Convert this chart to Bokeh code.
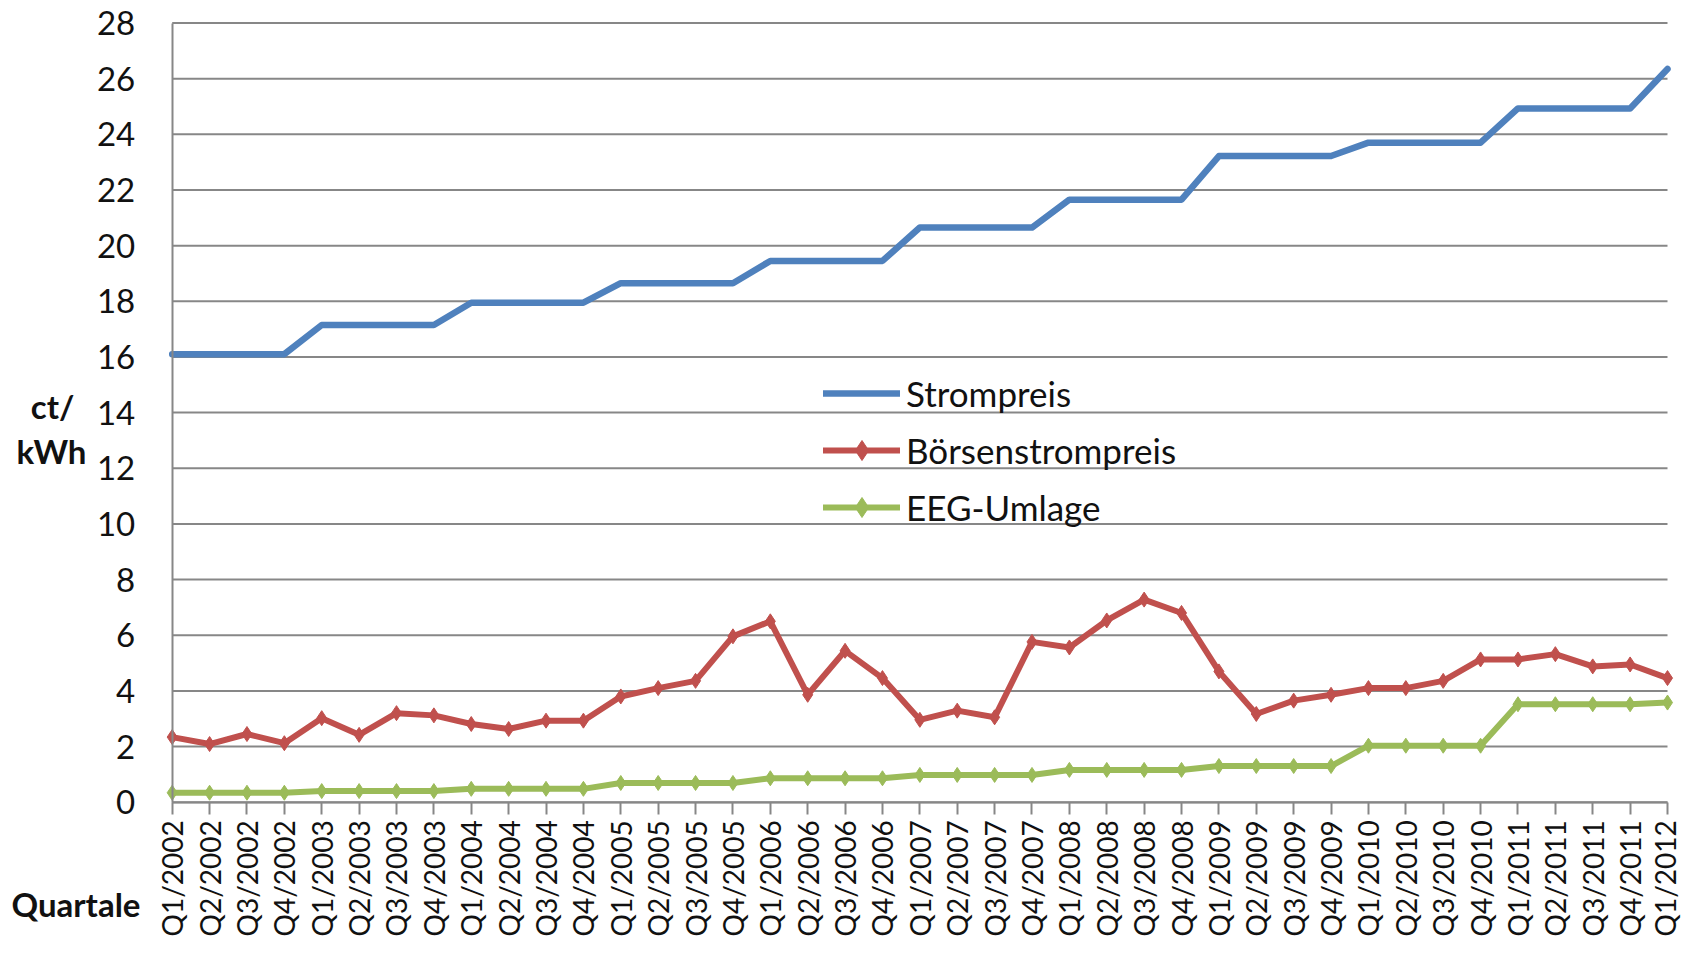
import math
from bokeh.plotting import figure
from bokeh.models import Legend, LegendItem, Label, FixedTicker, Range1d
from bokeh.embed import file_html
from bokeh.resources import INLINE

quarters = [
    "Q1/2002", "Q2/2002", "Q3/2002", "Q4/2002",
    "Q1/2003", "Q2/2003", "Q3/2003", "Q4/2003",
    "Q1/2004", "Q2/2004", "Q3/2004", "Q4/2004",
    "Q1/2005", "Q2/2005", "Q3/2005", "Q4/2005",
    "Q1/2006", "Q2/2006", "Q3/2006", "Q4/2006",
    "Q1/2007", "Q2/2007", "Q3/2007", "Q4/2007",
    "Q1/2008", "Q2/2008", "Q3/2008", "Q4/2008",
    "Q1/2009", "Q2/2009", "Q3/2009", "Q4/2009",
    "Q1/2010", "Q2/2010", "Q3/2010", "Q4/2010",
    "Q1/2011", "Q2/2011", "Q3/2011", "Q4/2011",
    "Q1/2012",
]

strompreis = [
    16.10, 16.10, 16.10, 16.10,
    17.15, 17.15, 17.15, 17.15,
    17.95, 17.95, 17.95, 17.95,
    18.65, 18.65, 18.65, 18.65,
    19.45, 19.45, 19.45, 19.45,
    20.65, 20.65, 20.65, 20.65,
    21.65, 21.65, 21.65, 21.65,
    23.22, 23.22, 23.22, 23.22,
    23.70, 23.70, 23.70, 23.70,
    24.93, 24.93, 24.93, 24.93,
    26.35,
]

boersenstrompreis = [
    2.34, 2.09, 2.45, 2.12,
    3.02, 2.42, 3.20, 3.12,
    2.81, 2.63, 2.93, 2.93,
    3.80, 4.10, 4.36, 5.96,
    6.50, 3.86, 5.44, 4.46,
    2.96, 3.29, 3.05, 5.76,
    5.56, 6.53, 7.28, 6.80,
    4.70, 3.17, 3.65, 3.86,
    4.10, 4.10, 4.36, 5.13,
    5.13, 5.32, 4.88, 4.95,
    4.46,
]

eeg_umlage = [
    0.34, 0.34, 0.34, 0.34,
    0.40, 0.40, 0.40, 0.40,
    0.48, 0.48, 0.48, 0.48,
    0.69, 0.69, 0.69, 0.69,
    0.86, 0.86, 0.86, 0.86,
    0.98, 0.98, 0.98, 0.98,
    1.16, 1.16, 1.16, 1.16,
    1.30, 1.30, 1.30, 1.30,
    2.03, 2.03, 2.03, 2.03,
    3.52, 3.52, 3.52, 3.52,
    3.58,
]

y_ticks = [0, 2, 4, 6, 8, 10, 12, 14, 16, 18, 20, 22, 24, 26, 28]

FONT = "Lato"
GRID = "#878787"
TXT = "#111111"

# canvas geometry (pixels)
W, H = 1682, 945
PLOT_L, PLOT_R = 171.7, 1667.0    # x of first / last category
PLOT_T, PLOT_B = 22.5, 801.7      # y of top / bottom value

xpos = list(range(len(quarters)))
x0, x1 = xpos[0], xpos[-1]
y0, y1 = y_ticks[0], y_ticks[-1]
xs = (PLOT_R - PLOT_L) / (x1 - x0)
ys = (PLOT_B - PLOT_T) / (y1 - y0)

p = figure(
    width=W, height=H,
    output_backend="svg", toolbar_location=None,
    x_range=Range1d(x0 - PLOT_L / xs, x1 + (W - PLOT_R) / xs),
    y_range=Range1d(y0 - (H - PLOT_B) / ys, y1 + PLOT_T / ys),
    min_border=0, min_border_left=0, min_border_right=0,
    min_border_top=0, min_border_bottom=0,
)
p.outline_line_color = None
p.background_fill_color = "white"
p.border_fill_color = "white"
p.xgrid.visible = False
p.ygrid.visible = False

# horizontal grid lines limited to the plot area
p.segment(x0=[x0] * len(y_ticks), x1=[x1] * len(y_ticks), y0=y_ticks, y1=y_ticks,
          line_color=GRID, line_width=2)

r_strom = p.line(xpos, strompreis, line_color="#4F81BD", line_width=6.5,
                 line_cap="round", line_join="round")
r_boe = p.line(xpos, boersenstrompreis, line_color="#C0504D", line_width=6,
               line_cap="round", line_join="round")
s_boe = p.scatter(xpos, boersenstrompreis, marker="diamond", size=15,
                  fill_color="#C0504D", line_color="#C0504D")
r_eeg = p.line(xpos, eeg_umlage, line_color="#9BBB59", line_width=6,
               line_cap="round", line_join="round")
s_eeg = p.scatter(xpos, eeg_umlage, marker="diamond", size=15,
                  fill_color="#9BBB59", line_color="#9BBB59")

legend = Legend(
    items=[
        LegendItem(label="Strompreis", renderers=[r_strom]),
        LegendItem(label="Börsenstrompreis", renderers=[r_boe, s_boe]),
        LegendItem(label="EEG-Umlage", renderers=[r_eeg, s_eeg]),
    ],
    location=(823, 413),
    orientation="vertical",
    glyph_width=77, glyph_height=50, label_height=50,
    spacing=7, padding=0, margin=0, label_standoff=6,
    label_text_font=FONT, label_text_font_size="35px", label_text_color=TXT,
    background_fill_alpha=0, border_line_alpha=0,
)
p.add_layout(legend)

# y axis, drawn at the first category
p.yaxis.fixed_location = x0
p.yaxis.bounds = (y0, y1)
p.yaxis.ticker = FixedTicker(ticks=y_ticks)
p.yaxis.major_label_text_font = FONT
p.yaxis.major_label_text_font_size = "33px"
p.yaxis.major_label_text_color = TXT
p.yaxis.major_tick_out = 0
p.yaxis.major_tick_in = 0
p.yaxis.minor_tick_out = 0
p.yaxis.minor_tick_in = 0
p.yaxis.axis_line_color = GRID
p.yaxis.axis_line_width = 2
p.yaxis.major_label_standoff = 37

# x axis, drawn at value 0
p.xaxis.fixed_location = y0
p.xaxis.bounds = (x0, x1)
p.xaxis.ticker = FixedTicker(ticks=xpos)
p.xaxis.major_label_overrides = {i: q for i, q in zip(xpos, quarters)}
p.xaxis.major_label_orientation = math.pi / 2
p.xaxis.major_label_text_font = FONT
p.xaxis.major_label_text_font_size = "28px"
p.xaxis.major_label_text_color = TXT
p.xaxis.major_tick_out = 12
p.xaxis.major_tick_in = 0
p.xaxis.minor_tick_out = 0
p.xaxis.minor_tick_in = 0
p.xaxis.major_tick_line_color = GRID
p.xaxis.major_tick_line_width = 2
p.xaxis.axis_line_color = GRID
p.xaxis.axis_line_width = 2
p.xaxis.major_label_standoff = 6

for txt, xx, yy in [("ct/", 52, H - 405), ("kWh", 51, H - 450)]:
    p.add_layout(Label(x=xx, y=yy, x_units="screen", y_units="screen", text=txt,
                       text_font=FONT, text_font_style="bold", text_font_size="33px",
                       text_align="center", text_baseline="alphabetic",
                       text_color=TXT))

p.add_layout(Label(x=11, y=H - 903, x_units="screen", y_units="screen", text="Quartale",
                   text_font=FONT, text_font_style="bold", text_font_size="33px",
                   text_align="left", text_baseline="alphabetic", text_color=TXT))

open("out.html", "w").write(file_html(p, INLINE))
